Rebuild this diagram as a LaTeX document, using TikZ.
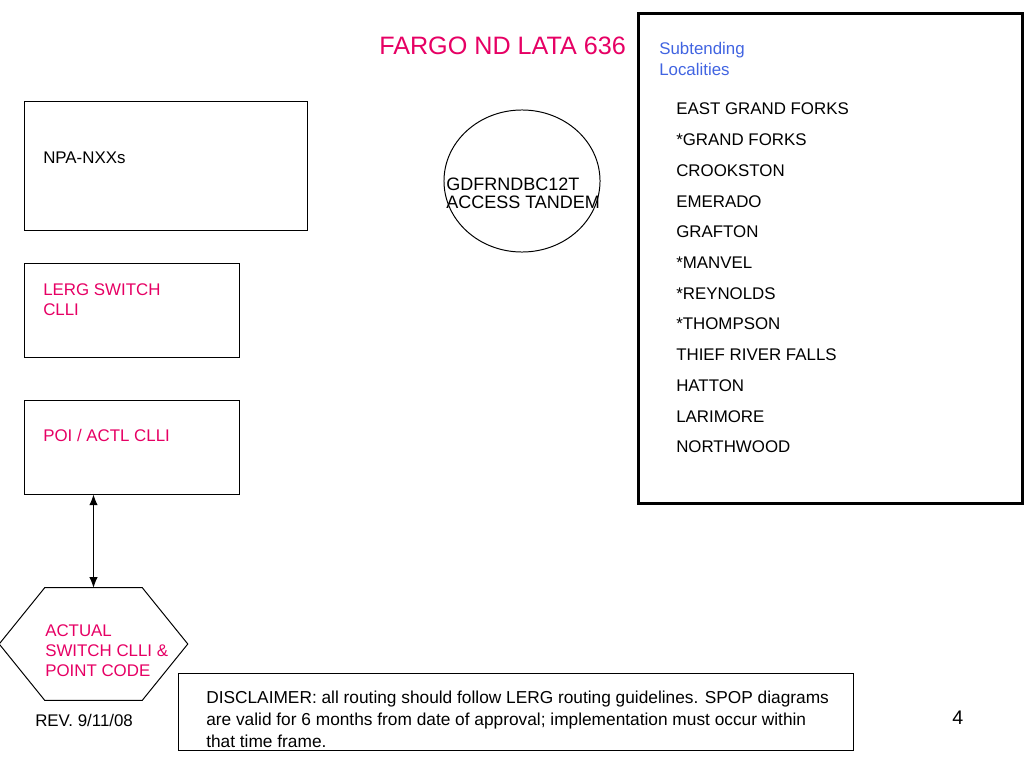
\documentclass[tikz,border=0pt]{standalone}
\usepackage{fontspec}
\setmainfont{Liberation Sans}
\usetikzlibrary{calc}
\usetikzlibrary{positioning}
\usetikzlibrary{shapes.geometric}
\usetikzlibrary{arrows.meta}
\definecolor{slidepink}{RGB}{230,0,100}
\definecolor{slideblue}{RGB}{65,100,225}
\tikzstyle{boxnode} = [draw, rectangle, inner sep=0pt, line width=0.7pt]
\tikzstyle{txtnode} = [inner sep=0pt, anchor=base west, align=left, font=\fontsize{12}{14.4}\selectfont]
\tikzstyle{placenode} = [txtnode]

\begin{document}
\begin{tikzpicture}[x=0.025cm, y=-0.025cm]
  \useasboundingbox (0,0) rectangle (1024,768);

  \node[txtnode, slidepink, font=\fontsize{17.9}{21}\selectfont] (title) at (379,55) {FARGO ND LATA 636};

  % left column (multi-line texts sit on their last baseline)
  \node[boxnode, minimum width=7.05cm, minimum height=3.2cm] (npa) at (166,166) {};
  \node[txtnode] (npa_t) at (43,163) {NPA-NXXs};
  \node[boxnode, minimum width=5.35cm, minimum height=2.325cm] (lerg) at (132,310.5) {};
  \node[txtnode, slidepink] (lerg_t) at (43,315.3) {LERG SWITCH\\CLLI};
  \node[boxnode, minimum width=5.35cm, minimum height=2.325cm] (poi) at (132,447.5) {};
  \node[txtnode, slidepink] (poi_t) at (43,441) {POI / ACTL CLLI};

  \node[rectangle, inner sep=0pt, minimum width=2.425cm, minimum height=2.8cm] (hex) at (93.5,644) {};
  \draw[line width=0.7pt] (hex.north west) -- (hex.north east) -- ($(hex.east)+(45.5,0)$)
    -- (hex.south east) -- (hex.south west) -- ($(hex.west)+(-45.5,0)$) -- cycle;
  \node[txtnode, slidepink] (hex_t) at (45,676.5) {ACTUAL\\SWITCH CLLI \&\\POINT CODE};
  \node[txtnode] (rev) at (35,726) {REV. 9/11/08};

  % tandem
  \node[draw, ellipse, inner sep=0pt, line width=0.7pt, minimum width=3.9cm, minimum height=3.55cm] (at) at (522,181) {};
  \node[txtnode, font=\fontsize{12.8}{12.8}\selectfont] (at_t) at (446,208) {GDFRNDBC12T\\ACCESS TANDEM};

  % localities
  \node[boxnode, line width=2.1pt, minimum width=9.575cm, minimum height=12.225cm] (sub) at (830.5,258.5) {};
  \node[txtnode, slideblue, font=\fontsize{12}{15}\selectfont] (sub_t) at (659,76) {Subtending\\Localities};
  \node[placenode] (p1) at (676,115) {EAST GRAND FORKS};
  \node[placenode] (p2) at (676,145.7) {*GRAND FORKS};
  \node[placenode] (p3) at (676,176.4) {CROOKSTON};
  \node[placenode] (p4) at (676,207.1) {EMERADO};
  \node[placenode] (p5) at (676,237.8) {GRAFTON};
  \node[placenode] (p6) at (676,268.5) {*MANVEL};
  \node[placenode] (p7) at (676,299.2) {*REYNOLDS};
  \node[placenode] (p8) at (676,329.9) {*THOMPSON};
  \node[placenode] (p9) at (676,360.6) {THIEF RIVER FALLS};
  \node[placenode] (p10) at (676,391.3) {HATTON};
  \node[placenode] (p11) at (676,422) {LARIMORE};
  \node[placenode] (p12) at (676,452.7) {NORTHWOOD};

  % disclaimer
  \node[boxnode, minimum width=16.85cm, minimum height=1.925cm] (disc) at (516,711.5) {};
  \node[txtnode, font=\fontsize{12.3}{15.3}\selectfont] (disc_t) at (206,747) {DISCLAIMER: all routing should follow LERG routing guidelines. SPOP diagrams\\are valid for 6 months from date of approval; implementation must occur within\\that time frame.};
  \node[txtnode, font=\fontsize{14}{16}\selectfont] (page) at (952,724) {4};

  \draw[{Latex[length=7.5pt,width=6pt]}-{Latex[length=7.5pt,width=6pt]}, line width=0.7pt] (poi.south -| hex.north) -- (hex.north);
\end{tikzpicture}
\end{document}
